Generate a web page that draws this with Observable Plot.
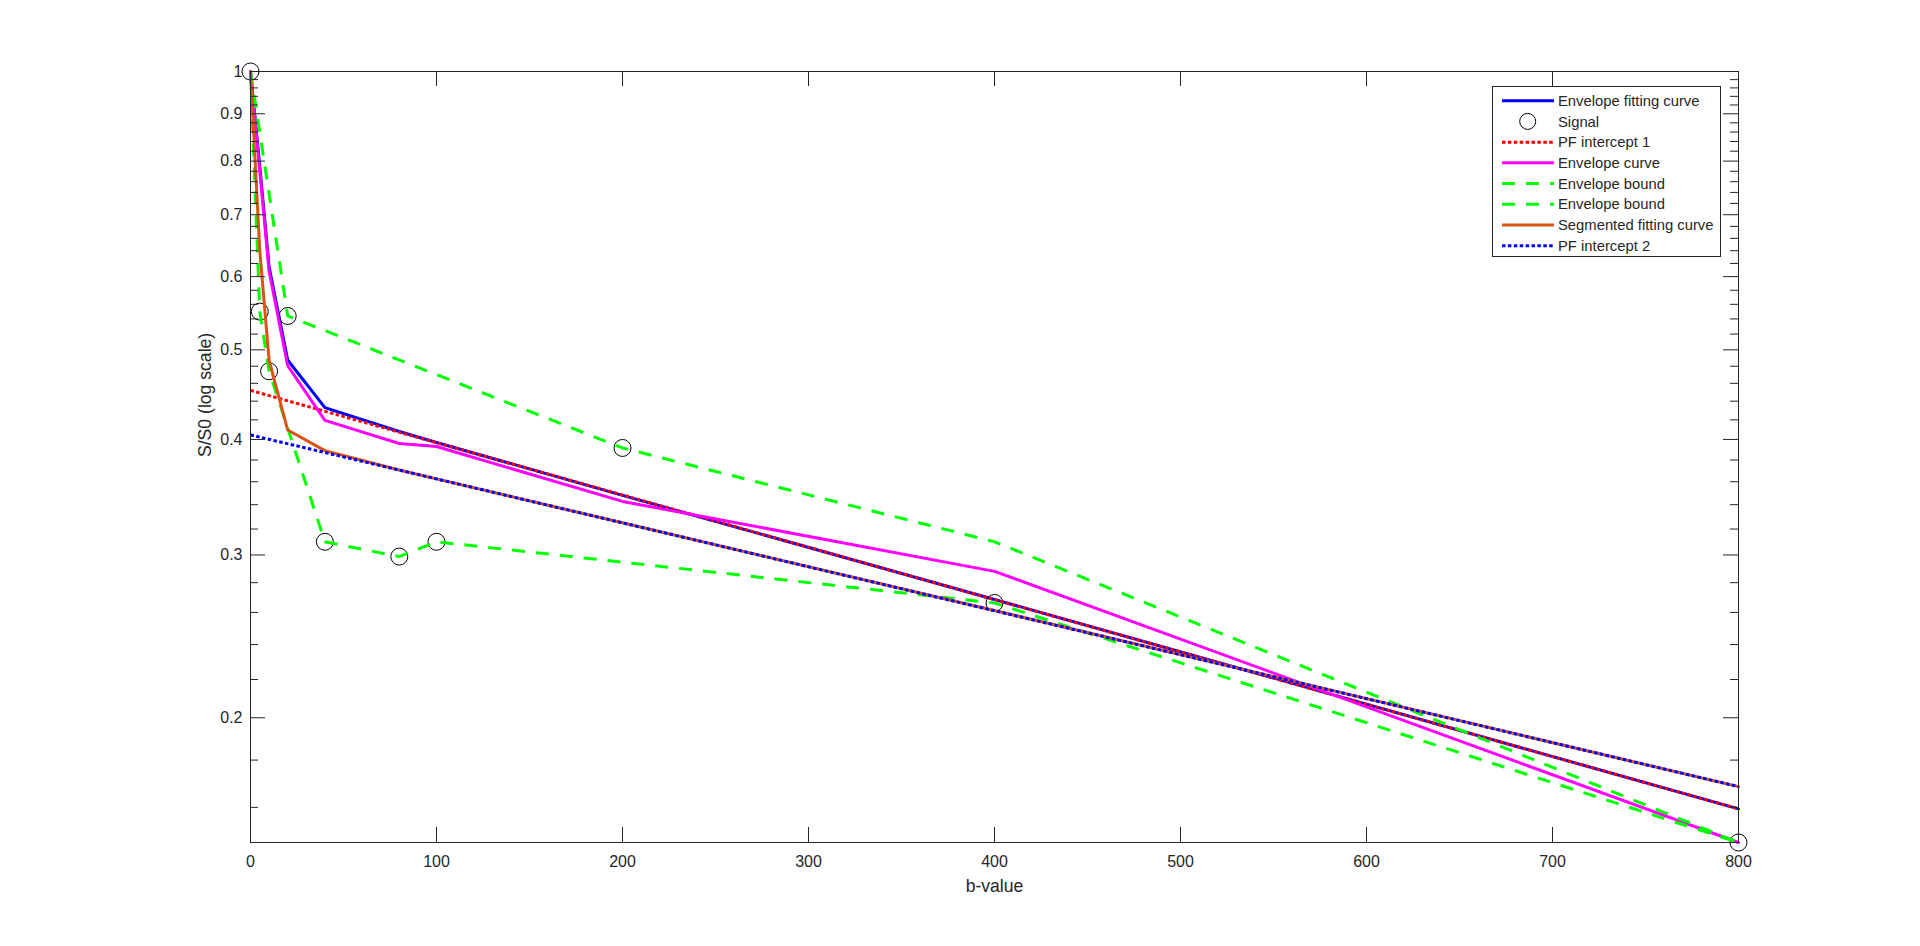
<!DOCTYPE html>
<html><head><meta charset="utf-8">
<script src="https://cdn.jsdelivr.net/npm/d3@7"></script>
<script src="https://cdn.jsdelivr.net/npm/@observablehq/plot@0.6"></script>
<style>
html,body{margin:0;padding:0;background:#fff;}
#wrap{position:relative;width:1920px;height:946px;font-family:"Liberation Sans",Arial,Helvetica,sans-serif;}
#legend{position:absolute;left:1492px;top:86px;}
</style></head><body><div id="wrap"></div>
<script>
// ---- data ----
const signalB = [0, 5, 10, 20, 40, 80, 100, 200, 400, 800];
const signal  = [1.0, 0.550, 0.474, 0.544, 0.310, 0.2988, 0.310, 0.3916, 0.2662, 0.1466];

const envFitB = [0, 5, 10, 20, 40, 80, 100, 200, 400, 800];
const envFit  = [1.0, 0.79, 0.615, 0.4875, 0.433, 0.408, 0.397, 0.348, 0.2685, 0.1594];

const pf1B = [0, 800];
const pf1  = [0.452, 0.1594];

const envCurveB = [0, 5, 10, 20, 40, 80, 100, 200, 400, 800];
const envCurve  = [1.0, 0.78, 0.608, 0.4806, 0.4194, 0.396, 0.393, 0.3428, 0.288, 0.1466];

const upperB = [0, 20, 200, 400, 800];
const upper  = [1.0, 0.544, 0.3916, 0.310, 0.1466];

const lowerB = [0, 5, 10, 40, 80, 100, 400, 800];
const lower  = [1.0, 0.550, 0.474, 0.310, 0.2988, 0.310, 0.2662, 0.1466];

const segB = [0, 5, 10, 20, 40, 80, 100, 200, 400, 800];
const seg  = [1.0, 0.64, 0.487, 0.4095, 0.389, 0.3707, 0.3626, 0.325, 0.2612, 0.1685];

const pf2B = [0, 800];
const pf2  = [0.4045, 0.1685];

const xTicks = [0, 100, 200, 300, 400, 500, 600, 700, 800];
const yMajor = [0.2, 0.3, 0.4, 0.5, 0.6, 0.7, 0.8, 0.9, 1];
const yMajorLabels = ["0.2", "0.3", "0.4", "0.5", "0.6", "0.7", "0.8", "0.9", "1"];
const yMinor = [0.16, 0.18, 0.22, 0.24, 0.26, 0.28, 0.32, 0.34, 0.36, 0.38, 0.42, 0.44, 0.46, 0.48,
                0.52, 0.54, 0.56, 0.58, 0.62, 0.64, 0.66, 0.68, 0.72, 0.74, 0.76, 0.78,
                0.82, 0.84, 0.86, 0.88, 0.92, 0.94, 0.96, 0.98];
const yDomain = [0.1466, 1];
const xDomain = [0, 800];

const legendNames = ["Envelope fitting curve", "Signal", "PF intercept 1", "Envelope curve",
                     "Envelope bound", "Envelope bound", "Segmented fitting curve", "PF intercept 2"];

// ---- build ----
const zip = (bs, vs) => bs.map((b, i) => ({b, v: vs[i]}));
const W = 1920, H = 946, mL = 250, mR = 182, mT = 71, mB = 104;
const pw = W - mL - mR, ph = H - mT - mB;
const axisColor = "#262626";
const font = '"Liberation Sans", Arial, Helvetica, sans-serif';

const lineStyles = [
  {stroke: "#0000ff", strokeWidth: 3, dash: null},
  null,
  {stroke: "#ff0000", strokeWidth: 3, dash: "3.5,2.4"},
  {stroke: "#ff00ff", strokeWidth: 3, dash: null},
  {stroke: "#00ff00", strokeWidth: 3, dash: "13,11"},
  {stroke: "#00ff00", strokeWidth: 3, dash: "13,11"},
  {stroke: "#d95319", strokeWidth: 3, dash: null},
  {stroke: "#0000ff", strokeWidth: 3, dash: "3.5,2.4"}
];
const series = [
  zip(envFitB, envFit), zip(signalB, signal), zip(pf1B, pf1), zip(envCurveB, envCurve),
  zip(upperB, upper), zip(lowerB, lower), zip(segB, seg), zip(pf2B, pf2)
];

const marks = [];
series.forEach((data, i) => {
  if (i === 1) {
    marks.push(Plot.dot(data, {x: "b", y: "v", r: 8.5, stroke: "#000", fill: "none", strokeWidth: 1}));
  } else {
    const s = lineStyles[i];
    marks.push(Plot.line(data, {x: "b", y: "v", stroke: s.stroke, strokeWidth: s.strokeWidth,
      strokeDasharray: s.dash, strokeLinejoin: "round", strokeLinecap: s.dash ? "butt" : "round"}));
  }
});

const chart = Plot.plot({
  width: W, height: H,
  marginLeft: mL, marginRight: mR, marginTop: mT, marginBottom: mB,
  style: {fontFamily: font, fontSize: "16px", color: axisColor, background: "#fff", overflow: "visible"},
  x: {domain: xDomain},
  y: {type: "log", domain: yDomain},
  marks: [
    ...marks,
    // ticks (inside, on all four sides)
    Plot.tickX(xTicks, {x: d => d, insetTop: ph - 15, stroke: axisColor, strokeWidth: 1}),
    Plot.tickX(xTicks, {x: d => d, insetBottom: ph - 15, stroke: axisColor, strokeWidth: 1}),
    Plot.tickY(yMajor, {y: d => d, insetRight: pw - 15, stroke: axisColor, strokeWidth: 1}),
    Plot.tickY(yMajor, {y: d => d, insetLeft: pw - 15, stroke: axisColor, strokeWidth: 1}),
    Plot.tickY(yMinor, {y: d => d, insetRight: pw - 8, stroke: axisColor, strokeWidth: 1}),
    Plot.tickY(yMinor, {y: d => d, insetLeft: pw - 8, stroke: axisColor, strokeWidth: 1}),
    // tick labels
    Plot.axisX(xTicks, {tickSize: 0, tickPadding: 13, label: null, fontSize: 16, fill: axisColor}),
    Plot.axisY(yMajor, {tickSize: 0, tickPadding: 8, label: null, fontSize: 16, fill: axisColor,
      tickFormat: (d, i) => yMajorLabels[yMajor.indexOf(d)]}),
    // axis titles
    Plot.text(["b-value"], {text: d => d, frameAnchor: "bottom", dy: 44, fontSize: 17.6, fill: axisColor, lineAnchor: "middle"}),
    Plot.text(["S/S0 (log scale)"], {text: d => d, frameAnchor: "left", dx: -45, rotate: -90, fontSize: 17.6, fill: axisColor, lineAnchor: "middle"}),
    Plot.frame({stroke: axisColor, strokeWidth: 1})
  ]
});
const wrap = document.getElementById("wrap");
wrap.appendChild(chart);

// ---- legend (inside the axes, top right) ----
const ns = "http://www.w3.org/2000/svg";
const lg = document.createElementNS(ns, "svg");
const LW = 229, LH = 171;
lg.setAttribute("id", "legend");
lg.setAttribute("width", LW + 1);
lg.setAttribute("height", LH + 1);
const box = document.createElementNS(ns, "rect");
box.setAttribute("x", 0.5); box.setAttribute("y", 0.5);
box.setAttribute("width", LW - 1); box.setAttribute("height", LH - 1);
box.setAttribute("fill", "#fff"); box.setAttribute("stroke", axisColor); box.setAttribute("stroke-width", 1);
lg.appendChild(box);
legendNames.forEach((name, i) => {
  const cy = 14.7 + i * 20.72;
  if (i === 1) {
    const c = document.createElementNS(ns, "circle");
    c.setAttribute("cx", 35.7); c.setAttribute("cy", cy); c.setAttribute("r", 8);
    c.setAttribute("fill", "none"); c.setAttribute("stroke", "#000"); c.setAttribute("stroke-width", 1);
    lg.appendChild(c);
  } else {
    const s = lineStyles[i];
    const l = document.createElementNS(ns, "line");
    l.setAttribute("x1", 10); l.setAttribute("x2", 62);
    l.setAttribute("y1", cy); l.setAttribute("y2", cy);
    l.setAttribute("stroke", s.stroke); l.setAttribute("stroke-width", s.strokeWidth);
    if (s.dash) l.setAttribute("stroke-dasharray", s.dash);
    lg.appendChild(l);
  }
  const t = document.createElementNS(ns, "text");
  t.setAttribute("x", 66); t.setAttribute("y", cy);
  t.setAttribute("dy", "0.35em");
  t.setAttribute("font-family", font);
  t.setAttribute("font-size", "14.8px");
  t.setAttribute("fill", axisColor);
  t.textContent = name;
  lg.appendChild(t);
});
wrap.appendChild(lg);
</script>
</body></html>
